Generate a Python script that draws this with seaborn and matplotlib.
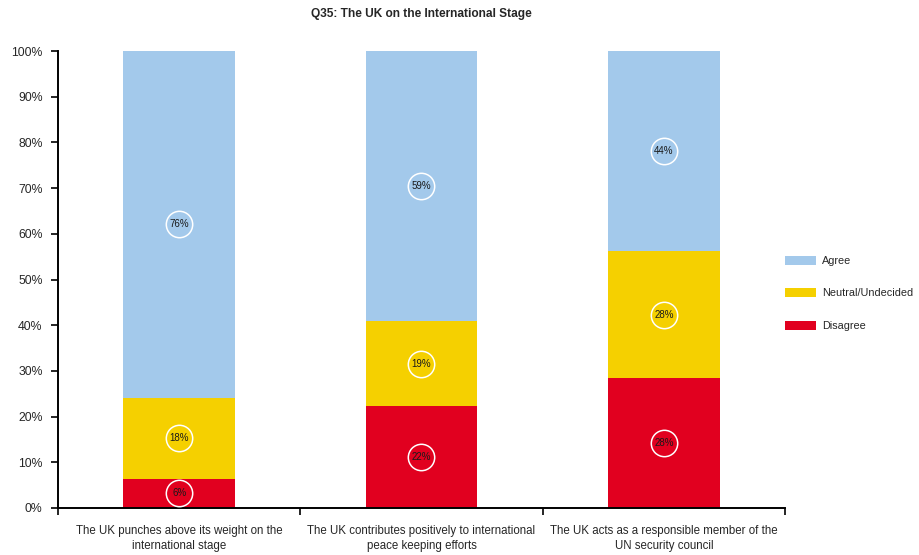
import numpy as np
import seaborn as sns
import matplotlib.pyplot as plt
from matplotlib.patches import Patch

# data (percent of respondents)
statements = [
    "The UK punches above its weight on the\ninternational stage",
    "The UK contributes positively to international\npeace keeping efforts",
    "The UK acts as a responsible member of the\nUN security council",
]
disagree = [6.4, 22.3, 28.4]
neutral = [17.7, 18.6, 27.8]
agree = [75.9, 59.1, 43.8]
disagree_lbl = ["6%", "22%", "28%"]
neutral_lbl = ["18%", "19%", "28%"]
agree_lbl = ["76%", "59%", "44%"]

series_names = ["Agree", "Neutral/Undecided", "Disagree"]
colors = {"Agree": "#A3C9EB", "Neutral/Undecided": "#F5D000", "Disagree": "#E1001F"}

sns.set_style("white")
plt.rcParams["font.family"] = ["Liberation Sans", "DejaVu Sans"]

fig = plt.figure(figsize=(9.2, 5.55), dpi=100)
ax = fig.add_axes([58 / 920, 47 / 555, 727 / 920, 457 / 555])

d = np.array(disagree)
n = np.array(neutral)
a = np.array(agree)
cum_n = d + n
cum_a = d + n + a

# draw back to front with cumulative heights
sns.barplot(x=statements, y=cum_a, color=colors["Agree"], width=0.46,
            saturation=1, linewidth=0, ax=ax)
sns.barplot(x=statements, y=cum_n, color=colors["Neutral/Undecided"], width=0.46,
            saturation=1, linewidth=0, ax=ax)
sns.barplot(x=statements, y=d, color=colors["Disagree"], width=0.46,
            saturation=1, linewidth=0, ax=ax)

# circled value labels in the middle of each segment
for i in range(len(statements)):
    mids = [d[i] / 2, d[i] + n[i] / 2, cum_n[i] + a[i] / 2]
    labels = [disagree_lbl[i], neutral_lbl[i], agree_lbl[i]]
    for m, lab in zip(mids, labels):
        ax.plot(i, m, marker="o", markersize=19, markerfacecolor="none",
                markeredgecolor="white", markeredgewidth=1.1, zorder=5)
        ax.text(i, m, lab, ha="center", va="center", fontsize=7,
                color="#1a1a1a", zorder=6)

ax.set_xlim(-0.5, 2.5)
ax.set_ylim(0, 100)
ax.set_yticks(np.arange(0, 101, 10))
ax.set_yticklabels([f"{v}%" for v in range(0, 101, 10)], fontsize=8.8)

# category separators as major ticks, labels on minor ticks
ax.set_xticks([-0.5, 0.5, 1.5, 2.5])
ax.set_xticklabels([])
ax.set_xticks([0, 1, 2], minor=True)
ax.set_xticklabels(statements, minor=True, fontsize=8.3, linespacing=1.35)
ax.tick_params(axis="x", which="major", direction="out", length=5, width=1.2,
               bottom=True, color="black")
ax.tick_params(axis="x", which="minor", length=0, pad=12)
ax.tick_params(axis="y", direction="out", length=5, width=1.2, left=True,
               color="black", pad=6)
ax.set_xlabel("")

for side in ["top", "right"]:
    ax.spines[side].set_visible(False)
for side in ["left", "bottom"]:
    ax.spines[side].set_color("black")
    ax.spines[side].set_linewidth(1.4)

handles = [Patch(facecolor=colors[s], edgecolor="none", label=s) for s in series_names]
ax.legend(handles=handles, loc="center left", bbox_to_anchor=(1.0, 0.47),
          frameon=False, fontsize=7.8, handlelength=2.9, handleheight=0.9,
          labelspacing=2.05, handletextpad=0.55, borderpad=0, borderaxespad=0)

fig.text(421 / 920, 1 - 14 / 555, "Q35: The UK on the International Stage",
         ha="center", va="center", fontsize=8.6, fontweight="bold")

fig.savefig("out.png", dpi=100)
